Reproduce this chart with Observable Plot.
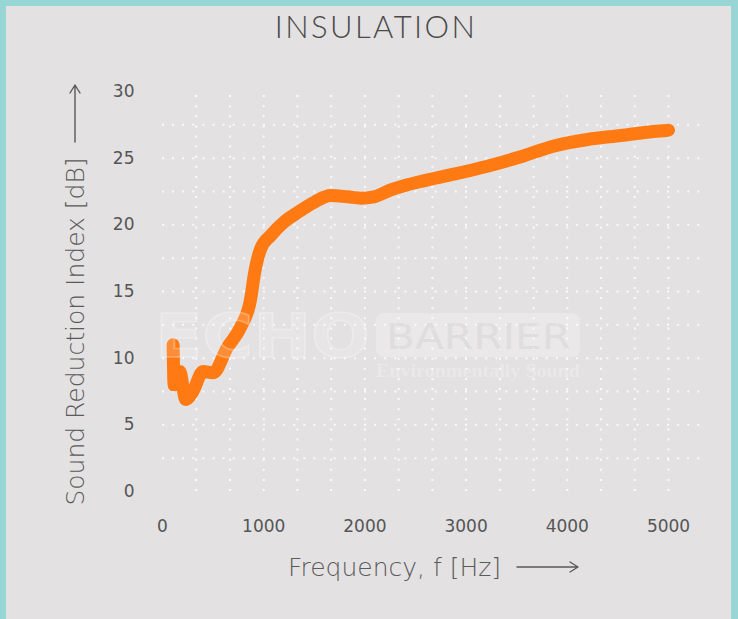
<!DOCTYPE html>
<html>
<head>
<meta charset="utf-8">
<script src="https://cdn.jsdelivr.net/npm/d3@7"></script>
<script src="https://cdn.jsdelivr.net/npm/@observablehq/plot@0.6"></script>
<style>
  html, body { margin: 0; padding: 0; }
  body { width: 738px; height: 619px; background: #97d6d4; position: relative; overflow: hidden; }
  #panel { position: absolute; left: 6px; top: 6px; width: 725px; height: 613px; background: #e3e1e2; }
  #title { position: absolute; left: 0; width: 752px; top: 7px; text-align: center;
           font-family: Lato, "Open Sans", sans-serif; font-weight: 300; font-size: 31px;
           letter-spacing: 2.4px; color: #4a4a4a; }
  #chart { position: absolute; left: 0; top: 50px; }
</style>
</head>
<body>
<div id="panel"></div>
<div id="title">INSULATION</div>
<div id="chart"></div>
<script>
const freq = [105, 115, 170, 230, 300, 400, 500, 640, 770, 870, 910, 970, 1070, 1200, 1330, 1500, 1660, 1830, 1960, 2090, 2250, 2420, 2580, 2880, 3210, 3540, 3860, 4200, 4530, 4850, 5000];
const sri  = [11.0, 8.0, 9.0, 6.9, 7.5, 9.0, 8.9, 10.8, 12.3, 14.4, 16.4, 18.2, 19.2, 20.2, 20.9, 21.7, 22.2, 22.1, 22.0, 22.1, 22.6, 23.0, 23.3, 23.8, 24.4, 25.1, 25.9, 26.4, 26.7, 27.0, 27.1];
const xTicks = [0, 1000, 2000, 3000, 4000, 5000];
const yTicks = [0, 5, 10, 15, 20, 25, 30];
const xGrid = [333.3, 666.7, 1000, 1333.3, 1666.7, 2000, 2333.3, 2666.7, 3000, 3333.3, 3666.7, 4000, 4333.3, 4666.7, 5000];
const yGrid = [2.5, 5, 7.5, 10, 12.5, 15, 17.5, 20, 22.5, 25, 27.5];
const xLabel = "Frequency, f [Hz]";
const yLabel = "Sound Reduction Index [dB]";

const data = freq.map((f, i) => ({f, v: sri[i]}));
const grid = {stroke: "white", strokeWidth: 2, strokeOpacity: 0.85, strokeDasharray: "2,8.1"};
const tickFont = {fontSize: 17, fill: "#555", stroke: "#555", strokeWidth: 0.35, fontFamily: "DejaVu Sans", tickFormat: d => String(d)};
const labelFont = {fontSize: 25, fill: "#5a5a5a", fontFamily: "DejaVu Sans", fontWeight: 200,
                   textAnchor: "middle", lineAnchor: "middle"};

const plot = Plot.plot({
  width: 738,
  height: 569,
  marginLeft: 162,
  marginRight: 70,
  marginTop: 41,
  marginBottom: 128,
  style: {background: "transparent", overflow: "visible"},
  x: {domain: [0, 5000], label: null},
  y: {domain: [0, 30], label: null},
  marks: [
    Plot.ruleY(yGrid, {y: d => d, x1: 0, x2: 5350, ...grid}),
    Plot.ruleX(xGrid, {x: d => d, y1: 0, y2: 30, ...grid}),
    Plot.axisX({ticks: xTicks, tickSize: 0, tickPadding: 28, label: null, ...tickFont}),
    Plot.axisY({ticks: yTicks, tickSize: 0, tickPadding: 28, label: null, ...tickFont}),
    Plot.line(data, {x: "f", y: "v", stroke: "#ff7a12", strokeWidth: 13,
      strokeLinecap: "round", strokeLinejoin: "round", curve: "monotone-x"}),
    Plot.text([xLabel], {text: d => d, frameAnchor: "bottom", dx: -21, dy: 76, ...labelFont}),
    Plot.text([yLabel], {text: d => d, frameAnchor: "left", dx: -87, dy: 40, rotate: -90, ...labelFont})
  ]
});
document.getElementById("chart").appendChild(plot);

const svg = d3.select(plot);
// axis-label arrows
const arrows = svg.append("g").attr("fill", "none").attr("stroke", "#5a5a5a").attr("stroke-width", 1.4)
  .attr("stroke-linecap", "round").attr("stroke-linejoin", "round");
arrows.append("path").attr("d", "M517,517H578M570,512L578,517L570,522");
arrows.append("path").attr("d", "M75,92V35M70,43L75,35L80,43");

// watermark overlay (decorative, drawn on top as in the reference)
const wm = svg.append("g").attr("pointer-events", "none").attr("text-anchor", "start");
wm.append("text").attr("x", 155).attr("y", 307).text("ECHO")
  .attr("font-family", "DejaVu Sans").attr("font-weight", "bold").attr("font-size", 60)
  .attr("textLength", 215).attr("lengthAdjust", "spacingAndGlyphs")
  .attr("fill", "white").attr("fill-opacity", 0.15)
  .attr("stroke", "white").attr("stroke-opacity", 0.3).attr("stroke-width", 1.5);
wm.append("rect").attr("x", 376).attr("y", 263).attr("width", 204).attr("height", 44).attr("rx", 8)
  .attr("fill", "white").attr("fill-opacity", 0.25);
wm.append("text").attr("x", 386).attr("y", 299).text("BARRIER")
  .attr("font-family", "DejaVu Sans").attr("font-size", 36)
  .attr("textLength", 185).attr("lengthAdjust", "spacingAndGlyphs")
  .attr("fill", "#d9d7d8").attr("fill-opacity", 0.6);
wm.append("text").attr("x", 376).attr("y", 327).text("Environmentally Sound")
  .attr("font-family", "Liberation Serif").attr("font-size", 18).attr("font-weight", "bold")
  .attr("textLength", 204).attr("lengthAdjust", "spacingAndGlyphs")
  .attr("fill", "white").attr("fill-opacity", 0.28);
</script>
</body>
</html>
